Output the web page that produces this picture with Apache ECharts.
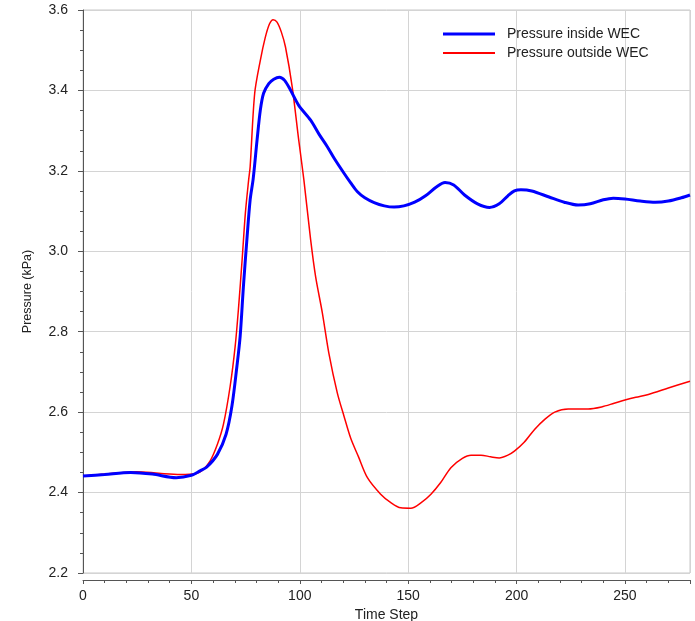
<!DOCTYPE html>
<html>
<head>
<meta charset="utf-8">
<script src="https://cdn.jsdelivr.net/npm/echarts@6/dist/echarts.min.js"></script>
<style>
  html, body { margin: 0; padding: 0; background: #fff; }
  #chart { width: 695px; height: 621px; }
</style>
</head>
<body>
<div id="chart"></div>
<script>
// pressure inside the WEC, [time step, kPa]
const insideWEC = [
  [0, 2.441], [10, 2.445], [22, 2.450], [32, 2.446], [43, 2.437], [50, 2.443],
  [54, 2.454], [57, 2.463], [62, 2.495], [66, 2.545], [68.7, 2.615], [71, 2.714],
  [72.5, 2.789], [74, 2.913], [75.6, 3.029], [77.1, 3.128], [78.5, 3.18], [80.3, 3.277],
  [81.8, 3.351], [83.3, 3.393], [85.7, 3.417], [88, 3.428], [90.6, 3.433], [93, 3.425],
  [95.7, 3.401], [99.5, 3.363], [105, 3.326], [109, 3.29], [112.7, 3.26], [116, 3.23],
  [120.4, 3.194], [123.5, 3.17], [126.6, 3.148], [130, 3.133], [134.3, 3.121], [139, 3.113],
  [143.5, 3.110], [148, 3.113], [153, 3.122], [158, 3.138], [163, 3.160], [167, 3.171],
  [171, 3.165], [176, 3.140], [182, 3.118], [187.5, 3.109], [192, 3.118], [196, 3.138],
  [199, 3.150], [202, 3.153], [207, 3.150], [215, 3.135], [222, 3.122], [228.4, 3.115],
  [234, 3.118], [240, 3.128], [244.6, 3.132], [250, 3.130], [257, 3.125], [264, 3.122],
  [270, 3.125], [276, 3.133], [280, 3.140]
];

// pressure outside the WEC
const outsideWEC = [
  [0, 2.441], [10, 2.446], [24.7, 2.452], [35, 2.448], [44.8, 2.445], [52, 2.447],
  [55, 2.455], [58.6, 2.478], [62, 2.52], [64.8, 2.57], [67.9, 2.665], [70.2, 2.764],
  [71.8, 2.863], [73.4, 2.979], [74.9, 3.095], [76.4, 3.177], [77.1, 3.21], [79.2, 3.393],
  [81.8, 3.475], [84, 3.53], [86, 3.565], [87.7, 3.576], [89.5, 3.57], [91.5, 3.545],
  [93.4, 3.508], [96.5, 3.409], [99.5, 3.277], [101.9, 3.177], [105, 3.029], [107.3, 2.937],
  [110.4, 2.847], [113.4, 2.747], [117.3, 2.648], [120.4, 2.59], [123.5, 2.535], [127, 2.49],
  [131.2, 2.437], [137.3, 2.396], [142, 2.375], [146.6, 2.362], [151.2, 2.361], [156, 2.375],
  [160.5, 2.396], [165, 2.425], [169.7, 2.462], [175, 2.485], [179, 2.493], [183.6, 2.493],
  [188, 2.489], [192, 2.486], [196, 2.493], [199, 2.503], [203.5, 2.525], [208.3, 2.557],
  [213, 2.582], [217.6, 2.60], [223.8, 2.608], [233, 2.608], [239.2, 2.613], [245, 2.622],
  [250, 2.630], [255, 2.637], [260.8, 2.644], [270, 2.66], [280, 2.677]
];

const seriesNames = ['Pressure inside WEC', 'Pressure outside WEC'];
const xTicks = [0, 50, 100, 150, 200, 250];
const yTicks = [2.2, 2.4, 2.6, 2.8, 3.0, 3.2, 3.4, 3.6];

const font = 'Liberation Sans, Arial, sans-serif';
const myChart = echarts.init(document.getElementById('chart'));

const option = {
  animation: false,
  grid: {
    left: 83,
    right: 5,
    top: 10,
    bottom: 48,
    outerBoundsMode: 'none',
    show: true,
    borderColor: '#c8c8c8',
    borderWidth: 1
  },
  legend: {
    orient: 'vertical',
    left: 438,
    top: 22,
    itemWidth: 52,
    itemHeight: 14,
    itemGap: 5,
    data: [
      { name: seriesNames[0], icon: 'path://M0,0 L52,0 L52,3 L0,3 Z' },
      { name: seriesNames[1], icon: 'path://M0,0 L52,0 L52,2 L0,2 Z' }
    ],
    textStyle: {
      fontFamily: font,
      fontSize: 14,
      color: '#222',
      padding: [0, 0, 0, 7]
    }
  },
  xAxis: {
    type: 'value',
    min: 0,
    max: 280,
    interval: 50,
    offset: 7,
    name: 'Time Step',
    nameLocation: 'middle',
    nameGap: 21,
    nameTextStyle: { fontFamily: font, fontSize: 14, color: '#222' },
    axisLine: { show: true, lineStyle: { color: '#555' } },
    axisTick: { show: true, length: 4, lineStyle: { color: '#555' } },
    minorTick: { show: true, splitNumber: 5, length: 3, lineStyle: { color: '#555' } },
    axisLabel: {
      fontFamily: font, fontSize: 14, color: '#222', margin: 9,
      formatter: v => (xTicks.includes(v) ? String(v) : '')
    },
    splitLine: { show: true, lineStyle: { color: '#d4d4d4' } }
  },
  yAxis: {
    type: 'value',
    min: 2.2,
    max: 3.6,
    interval: 0.2,
    offset: 5,
    name: 'Pressure (kPa)',
    nameLocation: 'middle',
    nameGap: 44,
    nameTextStyle: { fontFamily: font, fontSize: 12.5, color: '#222' },
    axisLine: { show: true, lineStyle: { color: '#555' } },
    axisTick: { show: true, length: 5, lineStyle: { color: '#555' } },
    minorTick: { show: true, splitNumber: 4, length: 3, lineStyle: { color: '#555' } },
    axisLabel: {
      fontFamily: font, fontSize: 14, color: '#222', margin: 10,
      formatter: v => {
        const t = yTicks.find(k => Math.abs(k - v) < 1e-6);
        return t === undefined ? '' : t.toFixed(1);
      }
    },
    splitLine: { show: true, lineStyle: { color: '#d4d4d4' } }
  },
  series: [
    {
      name: seriesNames[0],
      type: 'line',
      data: insideWEC,
      smooth: 0.3,
      showSymbol: false,
      symbol: 'none',
      color: '#0000ff',
      lineStyle: { width: 3, color: '#0000ff' },
      z: 3
    },
    {
      name: seriesNames[1],
      type: 'line',
      data: outsideWEC,
      smooth: 0.3,
      showSymbol: false,
      symbol: 'none',
      color: '#ff0000',
      lineStyle: { width: 1.5, color: '#ff0000' },
      z: 2
    }
  ]
};

myChart.setOption(option);
</script>
</body>
</html>
